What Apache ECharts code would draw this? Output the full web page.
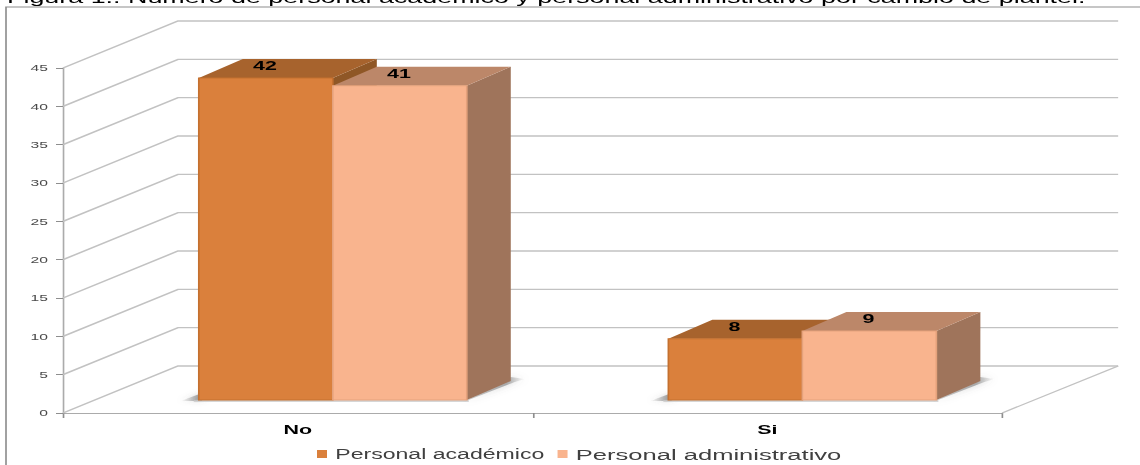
<!DOCTYPE html>
<html lang="es">
<head>
<meta charset="utf-8">
<title>Personal por cambio de plantel</title>
<script src="https://cdn.jsdelivr.net/npm/echarts@6/dist/echarts.min.js"></script>
<style>
  html, body { margin: 0; padding: 0; background: #fff; overflow: hidden; width: 1140px; height: 465px; }
  #chart { height: 465px; transform-origin: 0 0; }
</style>
</head>
<body>
<div id="chart"></div>
<script>
// Chart values
const categories = ['No', 'Si'];
const seriesAcademico = [42, 8];
const seriesAdministrativo = [41, 9];
const yTicks = [0, 5, 10, 15, 20, 25, 30, 35, 40, 45];
const titleText = 'Figura 1.: Número de personal académico y personal administrativo por cambio de plantel.';

// The whole drawing is widened horizontally, so widths are given in page
// pixels and divided by this factor.
const WIDEN = 1.65;
const wide = (px) => px / WIDEN;

const el = document.getElementById('chart');
el.style.width = wide(1140) + 'px';
el.style.transform = 'scaleX(' + WIDEN + ')';

// Perspective of the box the bars stand in
const WALL_DX_LEFT = 115, WALL_DX_RIGHT = 116, WALL_DY = 47;
const BAR_SHIFT_X = 35, BAR_SHIFT_Y = 13;
const BAR_WIDTH = 134, BAR_DEPTH_X = 44, BAR_DEPTH_Y = 19;

const palette = {
  academico: { front: '#DA803C', top: '#A7632D', side: '#8F5726', edge: '#C4702F' },
  administrativo: { front: '#F9B48E', top: '#BC8769', side: '#9F745B', edge: '#E5A27C' }
};
const LINE = '#C2C2C2';
const AXIS = '#ABABAB';
const FONT = '"Liberation Sans", Arial, sans-serif';

function renderWalls(params, api) {
  const cs = params.coordSys;
  const p = api.coord([0, api.value(1)]);
  const x0 = cs.x, x1 = cs.x + cs.width;
  const backY = p[1] - WALL_DY;
  const children = [{
    type: 'polyline',
    shape: { points: [[x0, p[1]], [x0 + wide(WALL_DX_LEFT), backY], [x1 + wide(WALL_DX_RIGHT), backY]] },
    style: { fill: 'none', stroke: LINE, lineWidth: 1.4 }
  }];
  if (api.value(1) === 0) {
    children.push({
      type: 'line',
      shape: { x1: x1, y1: p[1], x2: x1 + wide(WALL_DX_RIGHT), y2: backY },
      style: { stroke: LINE, lineWidth: 1.2 }
    });
  }
  return { type: 'group', children };
}

// Soft wedges on the floor beside each pair of bars
function renderShadow(params, api) {
  const c = api.coord([api.value(0), 0]);
  const base = c[1] - BAR_SHIFT_Y;
  const mid = c[0] + wide(BAR_SHIFT_X);
  const left = mid - wide(BAR_WIDTH), right = mid + wide(BAR_WIDTH);
  const tint = (a) => 'rgba(90,90,90,' + a + ')';
  const Grad = echarts.graphic.LinearGradient;
  return {
    type: 'group',
    children: [
      {
        type: 'polygon',
        shape: { points: [[left - wide(18), base + 1], [left + 2, base + 1], [left + 2, base - 7]] },
        style: {
          fill: new Grad(0, 0, 1, 0, [{ offset: 0, color: tint(0) }, { offset: 0.5, color: tint(0.3) }, { offset: 1, color: tint(0.6) }]),
          shadowBlur: 5,
          shadowColor: tint(0.55)
        }
      },
      {
        type: 'polygon',
        shape: { points: [
          [right - 2, base + 2],
          [right + wide(BAR_DEPTH_X + 4), base - BAR_DEPTH_Y + 1],
          [right + wide(BAR_DEPTH_X + 14), base - BAR_DEPTH_Y - 2],
          [right + wide(BAR_DEPTH_X), base - BAR_DEPTH_Y - 4]
        ] },
        style: {
          fill: new Grad(0, 0, 1, 0, [{ offset: 0, color: tint(0.3) }, { offset: 0.7, color: tint(0.45) }, { offset: 1, color: tint(0) }]),
          shadowBlur: 6,
          shadowColor: tint(0.6)
        }
      },
      {
        type: 'line',
        shape: { x1: left - wide(5), y1: base + 1, x2: right + wide(2), y2: base + 1 },
        style: { stroke: '#C9C9C9', lineWidth: 1.5 }
      }
    ]
  };
}

function barRenderer(colors, slot) {
  return function (params, api) {
    const top = api.coord([api.value(0), api.value(1)]);
    const bottom = api.coord([api.value(0), 0]);
    const w = wide(BAR_WIDTH), dx = wide(BAR_DEPTH_X), dy = BAR_DEPTH_Y;
    const x0 = top[0] + wide(BAR_SHIFT_X) + slot * w;
    const x1 = x0 + w;
    const yTop = top[1] - BAR_SHIFT_Y;
    const yBase = bottom[1] - BAR_SHIFT_Y;
    return {
      type: 'group',
      children: [
        {
          type: 'polygon',
          shape: { points: [[x1, yTop], [x1 + dx, yTop - dy], [x1 + dx, yBase - dy], [x1, yBase]] },
          style: { fill: colors.side }
        },
        {
          type: 'polygon',
          shape: { points: [[x0, yTop], [x0 + dx, yTop - dy], [x1 + dx, yTop - dy], [x1, yTop]] },
          style: { fill: colors.top }
        },
        {
          type: 'rect',
          shape: { x: x0, y: yTop, width: w, height: yBase - yTop },
          style: { fill: colors.front, stroke: colors.edge, lineWidth: 1 }
        },
        {
          type: 'text',
          style: {
            text: String(api.value(1)),
            x: (x0 + x1) / 2 - 0.5,
            y: yTop - 12,
            fill: '#000',
            font: 'bold 13px ' + FONT,
            align: 'center',
            verticalAlign: 'middle'
          }
        }
      ]
    };
  };
}

const chart = echarts.init(el, null, { renderer: 'svg' });
chart.setOption({
  animation: false,
  backgroundColor: '#fff',
  title: {
    text: titleText,
    left: wide(7),
    top: -11,
    padding: 0,
    textStyle: { fontFamily: FONT, fontSize: 16.3, fontWeight: 'normal', color: '#000' }
  },
  graphic: [{
    type: 'polyline',
    z: 0,
    shape: { points: [[wide(6), 470], [wide(6), 7], [wide(1145), 7]] },
    style: { fill: 'none', stroke: '#8E8E8E', lineWidth: 1 }
  }],
  legend: {
    data: [
      { name: 'Personal académico' },
      { name: 'Personal administrativo', textStyle: { fontSize: 15.5 } }
    ],
    left: wide(317),
    top: 446,
    padding: 0,
    itemWidth: wide(10),
    itemHeight: 8,
    itemGap: wide(13),
    icon: 'rect',
    textStyle: { fontFamily: FONT, fontSize: 14, color: '#404040' }
  },
  grid: { left: wide(63), right: wide(138), top: 68, bottom: 52 },
  xAxis: {
    type: 'category',
    data: categories,
    axisLine: { lineStyle: { color: AXIS, width: 1.2 } },
    axisTick: { show: true, alignWithLabel: false, length: 5, lineStyle: { color: '#8E8E8E', width: 1 } },
    axisLabel: { fontFamily: FONT, fontSize: 13, fontWeight: 'bold', color: '#000', margin: 10 },
    splitLine: { show: false }
  },
  yAxis: {
    type: 'value',
    min: 0,
    max: 45,
    interval: 5,
    axisLine: { show: true, lineStyle: { color: AXIS, width: 1 } },
    axisTick: { show: true, length: wide(7), lineStyle: { color: '#8E8E8E', width: 1 } },
    axisLabel: { fontFamily: FONT, fontSize: 9.5, color: '#4A4A4A', margin: wide(15) },
    splitLine: { show: false }
  },
  series: [
    {
      type: 'custom',
      coordinateSystem: 'cartesian2d',
      renderItem: renderWalls,
      data: yTicks.map((v) => [0, v]),
      encode: { x: 0, y: 1 },
      silent: true,
      z: 1
    },
    {
      type: 'custom',
      coordinateSystem: 'cartesian2d',
      renderItem: renderShadow,
      data: categories.map((c, i) => [i, 0]),
      encode: { x: 0, y: 1 },
      silent: true,
      z: 2
    },
    {
      name: 'Personal académico',
      type: 'custom',
      coordinateSystem: 'cartesian2d',
      renderItem: barRenderer(palette.academico, -1),
      itemStyle: { color: palette.academico.front },
      data: seriesAcademico.map((v, i) => [i, v]),
      encode: { x: 0, y: 1 },
      z: 3
    },
    {
      name: 'Personal administrativo',
      type: 'custom',
      coordinateSystem: 'cartesian2d',
      renderItem: barRenderer(palette.administrativo, 0),
      itemStyle: { color: palette.administrativo.front },
      data: seriesAdministrativo.map((v, i) => [i, v]),
      encode: { x: 0, y: 1 },
      z: 4
    }
  ]
});
</script>
</body>
</html>
